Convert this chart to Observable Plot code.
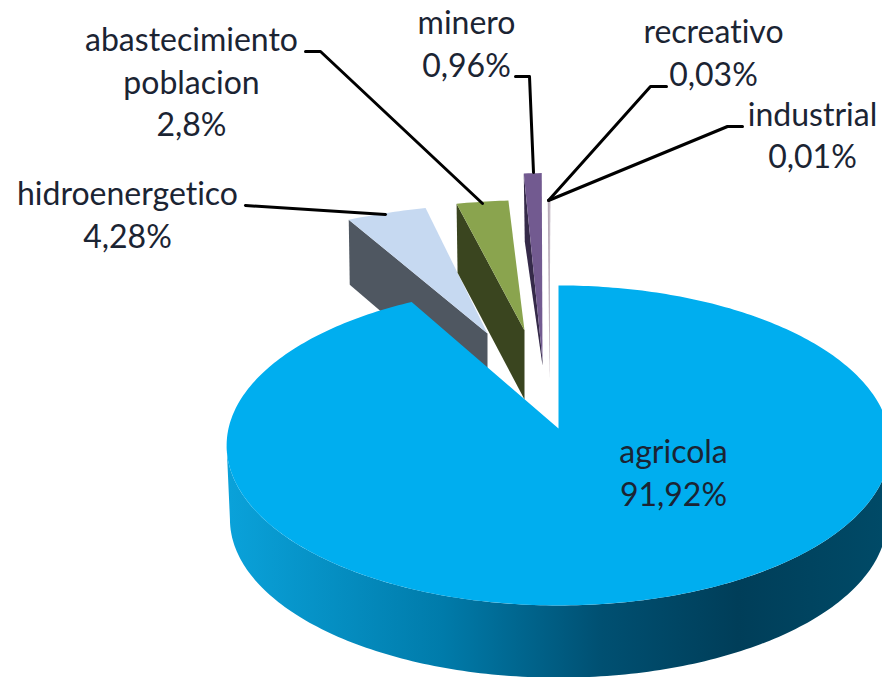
<!DOCTYPE html>
<html><head><meta charset="utf-8">
<script src="https://cdn.jsdelivr.net/npm/d3@7"></script>
<script src="https://cdn.jsdelivr.net/npm/@observablehq/plot@0.6"></script>
<style>html,body{margin:0;padding:0;background:#fff;overflow:hidden}
svg text{font-variant-ligatures:none}</style>
</head><body><div id="chart"></div>
<script>
// Data
const categories = ["agricola", "hidroenergetico", "abastecimiento poblacion", "minero", "recreativo", "industrial"];
const shares = [91.92, 4.28, 2.8, 0.96, 0.03, 0.01];

// Picture layout (pixels), separate from the data
const W = 882, H = 677;
const persp = 0.106, RX = 330, RY = 158.2;
const sliceLayout = [
  {ax: 558, ay: 428, sx0: 1,     sx1: 1,     sy: 1,    face: "#00AEEF"},
  {ax: 487, ay: 333, sx0: 0.945, sx1: 0.875, sy: 0.90, face: "#C6D9F1", wall: "#4F5761", dR: 65, dA: 69},
  {ax: 524, ay: 330, sx0: 0.96,  sx1: 0.86,  sy: 0.91, face: "#8AA44E", wall: "#3A451F", dR: 69, dA: 69},
  {ax: 542, ay: 360, sx0: 1.0,   sx1: 1.0,   sy: 1.31, face: "#725A90", wall: "#352A49", dR: 68, dA: 5},
  {ax: 549, ay: 380, sx0: 1.0,   sx1: 1.0,   sy: 1.25, face: "#B3A6B4", pad: 1.0},
  {ax: 549, ay: 380, sx0: 1.0,   sx1: 1.0,   sy: 1.25, face: "#C4B8C4", pad: 0.6}
];
const sideDepth = 74;
const labelFont = 32;
const labelLines = [
  {text: 0, line: "name1", x: 673, y: 462}, {text: 0, line: "pct", x: 673, y: 505},
  {text: 1, line: "name1", x: 127, y: 204}, {text: 1, line: "pct", x: 127, y: 247},
  {text: 2, line: "abastecimiento", x: 191, y: 50}, {text: 2, line: "poblacion", x: 191, y: 93}, {text: 2, line: "pct", x: 191, y: 135},
  {text: 3, line: "name1", x: 466, y: 33}, {text: 3, line: "pct", x: 466, y: 76},
  {text: 4, line: "name1", x: 713, y: 42}, {text: 4, line: "pct", x: 713, y: 85},
  {text: 5, line: "name1", x: 812, y: 125}, {text: 5, line: "pct", x: 812, y: 167}
];
const leaderLines = [
  [[245,205],[385,214]],
  [[305,51],[320,51],[482,203]],
  [[515,76],[529,76],[533,172]],
  [[666,86],[650,86],[548,200]],
  [[742,126],[727,126],[548,200]]
];

const total = d3.sum(shares);
const cum = d3.cumsum(shares);
const angle = v => v / total * 2 * Math.PI;

function pt(t, l, dy = 0, shrink = 1, sx = l.sx0) {
  const w = 1 + persp * Math.cos(t);
  return [l.ax + shrink * sx * RX * Math.sin(t) / w,
          l.ay + dy - shrink * l.sy * RY * Math.cos(t) / w];
}
function arc(t0, t1, l, dy = 0, shrink = 1) {
  const n = Math.max(2, Math.ceil(Math.abs(t1 - t0) * 60));
  return d3.range(n + 1).map(i => pt(t0 + (t1 - t0) * i / n, l, dy, shrink, l.sx0 + (l.sx1 - l.sx0) * i / n));
}
const polys = [];
const add = (pts, fill) => polys.push({pts, fill});

// main slice: wall first, then face on top of it
const main = sliceLayout[0];
const t1Main = angle(cum[0]);
const tw = Math.acos(-persp);
add([...arc(tw, 2 * Math.PI - tw, main), ...arc(2 * Math.PI - tw, tw, main, sideDepth, 0.99)], "url(#sideGrad)");

// exploded slices
shares.forEach((v, i) => {
  if (i === 0) return;
  const l = sliceLayout[i];
  const t0 = angle(cum[i - 1]), t1 = angle(cum[i]);
  const a = [l.ax, l.ay];
  if (l.wall) {
    const r = pt(t0, l);
    add([r, a, [a[0], a[1] + l.dA], [r[0] + 1, r[1] + l.dR]], l.wall);
  }
  const rim = arc(t0, t1, l);
  if (l.pad) { rim[0] = [rim[0][0] - l.pad, rim[0][1]]; rim[rim.length - 1] = [rim[rim.length - 1][0] + l.pad, rim[rim.length - 1][1]]; }
  add([a, ...rim], l.face);
});
add([[main.ax, main.ay], ...arc(0, t1Main, main)], main.face);

const fmt = v => String(v).replace(".", ",") + "%";
const textRows = labelLines.map(d => ({
  x: d.x, y: d.y - 0.32 * labelFont,
  label: d.line === "pct" ? fmt(shares[d.text]) : d.line === "name1" ? categories[d.text] : d.line
}));

const svg = Plot.plot({
  width: W, height: H, margin: 0,
  style: {background: "#fff", display: "block"},
  x: {domain: [0, W], range: [0, W], axis: null},
  y: {domain: [0, H], range: [0, H], axis: null},
  marks: [
    ...polys.map(p => Plot.line(p.pts, {x: d => d[0], y: d => d[1], fill: p.fill, stroke: "none", curve: "linear-closed"})),
    ...leaderLines.map(l => Plot.line(l, {x: d => d[0], y: d => d[1], stroke: "#000", strokeWidth: 3, curve: "linear"})),
    Plot.text(textRows, {x: "x", y: "y", text: "label", textAnchor: "middle", fontFamily: "Lato", fontSize: labelFont, fill: "#1b2433"})
  ]
});
const defs = d3.create("svg:defs");
const g = defs.append("linearGradient").attr("id", "sideGrad").attr("gradientUnits", "userSpaceOnUse")
  .attr("x1", 226).attr("x2", 882).attr("y1", 0).attr("y2", 0);
[[0, "#0AA2DA"], [0.33, "#007BAA"], [0.57, "#005072"], [0.78, "#003E59"], [1, "#004A67"]]
  .forEach(([o, c]) => g.append("stop").attr("offset", o).attr("stop-color", c));
svg.insertBefore(defs.node(), svg.firstChild);
document.getElementById("chart").appendChild(svg);
</script></body></html>
